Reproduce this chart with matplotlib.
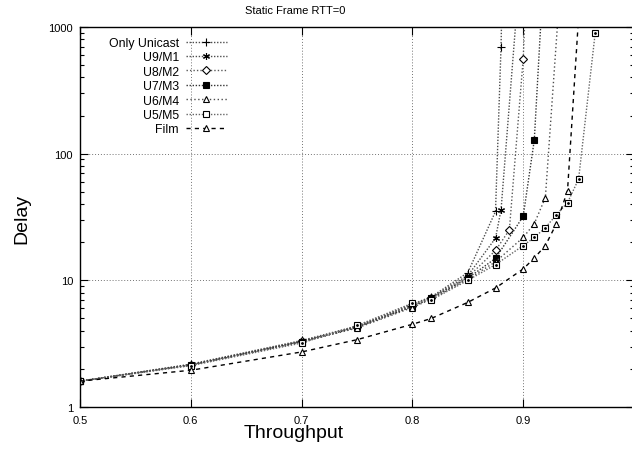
import matplotlib
matplotlib.use("Agg")
import matplotlib.pyplot as plt
from matplotlib.ticker import FixedLocator, NullFormatter

plt.rcParams['font.family'] = ['Liberation Sans', 'DejaVu Sans']

# throughput values (x) per series
x_unicast = [0.5, 0.6, 0.7, 0.75, 0.8, 0.817, 0.85, 0.875, 0.88, 0.885]
x_u9m1 = [0.5, 0.6, 0.7, 0.75, 0.8, 0.817, 0.85, 0.875, 0.88, 0.9]
x_u8m2 = [0.5, 0.6, 0.7, 0.75, 0.8, 0.817, 0.85, 0.875, 0.8875, 0.9, 0.91]
x_u7m3 = [0.5, 0.6, 0.7, 0.75, 0.8, 0.817, 0.85, 0.875, 0.9, 0.91, 0.92]
x_u6m4 = [0.5, 0.6, 0.7, 0.75, 0.8, 0.817, 0.85, 0.875, 0.9, 0.91, 0.92, 0.94]
x_u5m5 = [0.5, 0.6, 0.7, 0.75, 0.8, 0.817, 0.85, 0.875, 0.9, 0.91, 0.92, 0.93,
          0.94, 0.95, 0.965]
x_film = [0.5, 0.6, 0.7, 0.75, 0.8, 0.817, 0.85, 0.875, 0.9, 0.91, 0.92, 0.93,
          0.94, 0.95]

# delay values (y)
d_unicast = [1.6, 2.18, 3.35, 4.35, 6.5, 7.4, 11.5, 35, 700, 100000]
d_u9m1 = [1.6, 2.16, 3.3, 4.3, 6.4, 7.35, 10.9, 21.5, 36, 6000]
d_u8m2 = [1.6, 2.15, 3.3, 4.3, 6.3, 7.3, 10.6, 17.2, 25, 560, 80000]
d_u7m3 = [1.6, 2.15, 3.28, 4.25, 6.2, 7.2, 10.4, 14.9, 32, 128, 4700]
d_u6m4 = [1.6, 2.14, 3.25, 4.2, 6.1, 7.1, 10.2, 14.0, 21.8, 28, 45, 14000]
d_u5m5 = [1.6, 2.12, 3.2, 4.4, 6.6, 7.0, 10.0, 13.3, 18.8, 21.8, 26, 33,
          41, 63, 900]
d_film = [1.6, 1.95, 2.72, 3.4, 4.5, 5.0, 6.7, 8.7, 12.3, 15, 18.8, 28, 51, 1200]

labels = ['Only Unicast', 'U9/M1', 'U8/M2', 'U7/M3', 'U6/M4', 'U5/M5', 'Film']
xs = [x_unicast, x_u9m1, x_u8m2, x_u7m3, x_u6m4, x_u5m5, x_film]
ds = [d_unicast, d_u9m1, d_u8m2, d_u7m3, d_u6m4, d_u5m5, d_film]

# style per series: marker, facecolor, line dashes, line colour
styles = [
    dict(marker='+', mfc='black', dashes=(1, 1.2), color='0.3', ms=6),
    dict(marker=(6, 2, 0), mfc='black', dashes=(1, 1.2), color='0.3', ms=5),
    dict(marker='D', mfc='white', dashes=(1, 1.5), color='0.35', ms=4),
    dict(marker='s', mfc='black', dashes=(1, 1.2), color='0.2', ms=5),
    dict(marker='^', mfc='white', dashes=(1, 1.8), color='0.3', ms=5),
    dict(marker='s', mfc='white', dashes=(1, 1.2), color='0.4', ms=5, dot=True),
    dict(marker='^', mfc='white', dashes=(3, 3), color='black', ms=5),
]

fig = plt.figure(figsize=(6.32, 4.52), dpi=100)
ax = fig.add_axes([80 / 632, 1 - 408 / 452, 554 / 632, 380 / 452])

for x, d, lab, st in zip(xs, ds, labels, styles):
    ax.plot(x, d, label=lab, color=st['color'], lw=1.0, dashes=st['dashes'],
            marker=st['marker'], ms=st['ms'], mfc=st['mfc'], mec='black',
            mew=0.8)
    if st.get('dot'):
        # small dot inside the open square markers
        ax.plot(x, d, ls='none', marker='.', ms=2, color='black')

ax.set_yscale('log')
ax.set_xlim(0.5, 1.0)
ax.set_ylim(1, 1000)

ax.set_xticks([0.5, 0.6, 0.7, 0.8, 0.9])
ax.set_xticklabels(['0.5', '0.6', '0.7', '0.8', '0.9'])
ax.set_yticks([1, 10, 100, 1000])
ax.set_yticklabels(['1', '10', '100', '1000'])
minor = [m * 10 ** e for e in range(0, 3) for m in range(2, 10)]
ax.yaxis.set_minor_locator(FixedLocator(minor))
ax.yaxis.set_minor_formatter(NullFormatter())
ax.tick_params(which='both', direction='in', top=True, right=True,
               labelsize=8, width=0.8)
ax.tick_params(which='major', length=6)
ax.tick_params(which='minor', length=3)
ax.tick_params(axis='x', pad=6)
ax.tick_params(axis='y', pad=5)

ax.grid(True, which='major', ls=(0, (1, 2)), color='0.45', lw=0.7)
for sp in ax.spines.values():
    sp.set_linewidth(1.0)

fig.text(295 / 632, 1 - 11 / 452, 'Static Frame RTT=0', ha='center',
         va='center', fontsize=8)
fig.text(294 / 632, 1 - 434 / 452, 'Throughput', ha='center', va='center',
         fontsize=14)
fig.text(22 / 632, 1 - 219 / 452, 'Delay', ha='center', va='center',
         fontsize=14, rotation=90)

# markerfirst=False right-aligns the rows, so labels end where samples start
ax.legend(loc='upper left', bbox_to_anchor=(0.043, 0.987), frameon=False,
          markerfirst=False, fontsize=8.8, handlelength=3.3,
          handletextpad=0.6, labelspacing=0.2, borderaxespad=0,
          numpoints=1)

fig.savefig('out.png', dpi=100)
